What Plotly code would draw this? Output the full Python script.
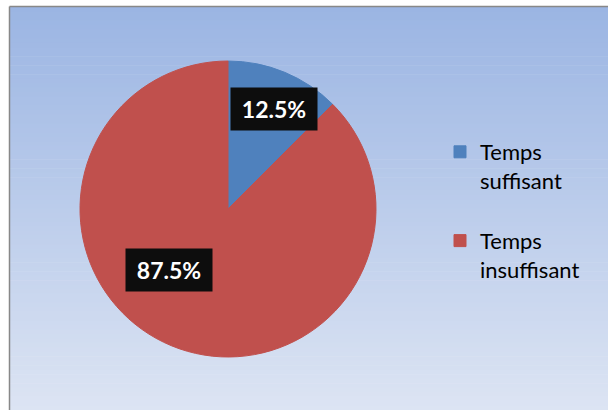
import math
import plotly.graph_objects as go

# Data
categories = ["Temps<br>suffisant<br> ", "Temps<br>insuffisant<br> "]
shares = [12.5, 87.5]
slice_colors = ["#4F81BD", "#C0504D"]

# Value-label placement: angle clockwise from 12 o'clock (deg), fraction of radius
label_polar = [(24.7, 0.743), (224.0, 0.574)]

W, H = 608, 410
FONT = "Lato"

fig = go.Figure()

fig.add_trace(go.Pie(
    labels=categories,
    values=shares,
    sort=False,
    direction="clockwise",
    rotation=0,
    marker=dict(colors=slice_colors, line=dict(color=slice_colors, width=1)),
    textinfo="none",
    hoverinfo="percent",
    domain=dict(x=[80 / W, 376 / W], y=[(H - 357) / H, (H - 61) / H]),
    showlegend=True,
))

# Plot area background: vertical gradient built from thin bands
x0p, y_top_px = 10 / W, 7
top_rgb = (155, 181, 227)
bot_rgb = (220, 228, 243)
n_bands = 90
shapes = []
for i in range(n_bands):
    t = i / (n_bands - 1)
    r, g, b = (round(a + (c - a) * t) for a, c in zip(top_rgb, bot_rgb))
    ya = y_top_px + (H - y_top_px) * i / n_bands
    yb = y_top_px + (H - y_top_px) * (i + 1) / n_bands + 0.6
    shapes.append(dict(type="rect", xref="paper", yref="paper", layer="below",
                       x0=x0p, x1=1, y0=1 - min(yb, H) / H, y1=1 - ya / H,
                       line=dict(width=0), fillcolor=f"rgb({r},{g},{b})"))
# Outer border (left and top edges)
shapes.append(dict(type="line", xref="paper", yref="paper", x0=9.5 / W, x1=9.5 / W,
                   y0=0, y1=1 - 6.5 / H, line=dict(color="#888888", width=1.5)))
shapes.append(dict(type="line", xref="paper", yref="paper", x0=9.5 / W, x1=1,
                   y0=1 - 6.5 / H, y1=1 - 6.5 / H, line=dict(color="#888888", width=1.5)))

# Value labels in black boxes
cx, cy, R = 228, 209, 148
annotations = []
for v, (ang, f) in zip(shares, label_polar):
    a = math.radians(ang)
    px = cx + f * R * math.sin(a)
    py = cy - f * R * math.cos(a)
    annotations.append(dict(
        x=px / W, y=1 - py / H, xref="paper", yref="paper",
        xanchor="center", yanchor="middle",
        text=f"<b>{v:.1f}%</b>", showarrow=False,
        font=dict(family=FONT, size=23, color="white"),
        bgcolor="#0D0D0D", width=84, height=40, align="center", valign="middle",
    ))

fig.update_layout(
    width=W, height=H,
    margin=dict(l=0, r=0, t=0, b=0),
    paper_bgcolor="white",
    plot_bgcolor="rgba(0,0,0,0)",
    shapes=shapes,
    annotations=annotations,
    font=dict(family=FONT, color="black"),
    legend=dict(
        x=440 / W, y=1 - 131 / H, xanchor="left", yanchor="top",
        font=dict(family=FONT, size=22, color="black"),
        bgcolor="rgba(0,0,0,0)", itemwidth=30, valign="top",
    ),
)

fig.write_html("out.html")
